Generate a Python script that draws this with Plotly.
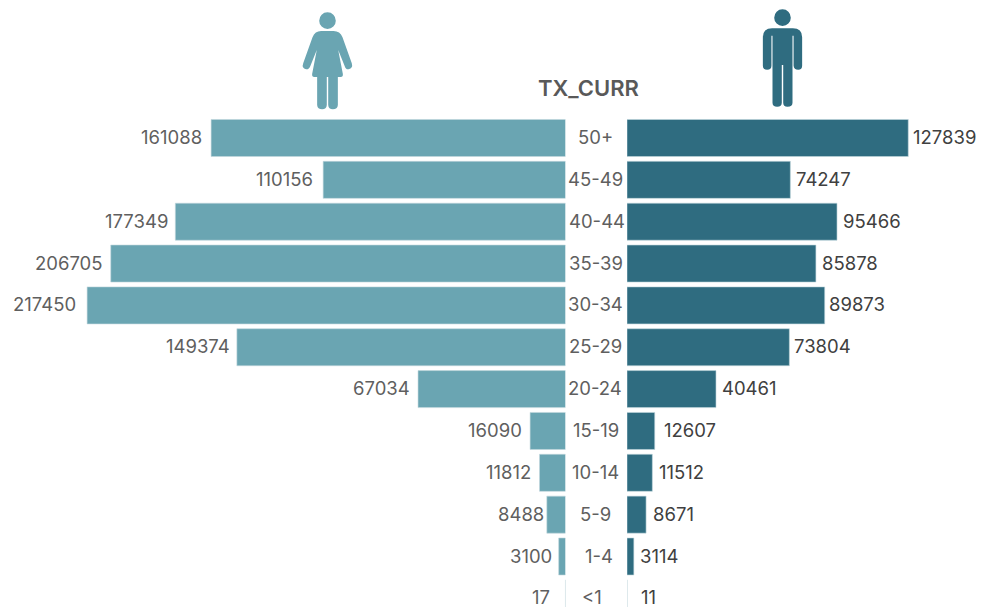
import re
import plotly.graph_objects as go

ages = ["50+", "45-49", "40-44", "35-39", "30-34", "25-29", "20-24", "15-19", "10-14", "5-9", "1-4", "<1"]
female = [161088, 110156, 177349, 206705, 217450, 149374, 67034, 16090, 11812, 8488, 3100, 17]
male = [127839, 74247, 95466, 85878, 89873, 73804, 40461, 12607, 11512, 8671, 3114, 11]

W, H = 986, 607
FEMALE_C, MALE_C = "#6aa5b2", "#2f6c80"
EDGE = "#c3d6de"
FONT = "Inter"
LABEL_SIZE = 18.5
# pixels per person on both value axes
SCALE = 0.0022
ZERO_L, ZERO_R = 565.5, 627.0
ROW0, STEP = 138.0, 41.85

# label offsets from the bar ends, in pixels
gap_f = [7, 8, 5, 6, 9, 5, 6, 6, 7, 1, 5, 13]
gap_m = [3, 4, 4, 4, 2, 3, 4, 7, 5, 5, 4, 12]
shift_c = [0, 0, 1.5, 0.5, 0.5, 0, 0, 0.5, 0, 0, 3.5, -3.5]

fig = go.Figure()
fig.add_bar(y=ages, x=female, orientation="h", xaxis="x", yaxis="y", showlegend=False,
            marker=dict(color=FEMALE_C, line=dict(color=EDGE, width=0.6)))
fig.add_bar(y=ages, x=male, orientation="h", xaxis="x2", yaxis="y", showlegend=False,
            marker=dict(color=MALE_C, line=dict(color=EDGE, width=0.6)))

ann = []
for a, f, m, gf, gm, sc in zip(ages, female, male, gap_f, gap_m, shift_c):
    ann.append(dict(x=f, y=a, xref="x", yref="y", text=str(f), showarrow=False, xanchor="right",
                    yshift=1, xshift=-gf, font=dict(family=FONT, size=LABEL_SIZE, color="#5f5f5f")))
    ann.append(dict(x=m, y=a, xref="x2", yref="y", text=str(m), showarrow=False, xanchor="left",
                    yshift=1, xshift=gm, font=dict(family=FONT, size=LABEL_SIZE, color="#404040")))
    ann.append(dict(x=595 / W, y=a, xref="paper", yref="y", text=a, showarrow=False, xanchor="center",
                    yshift=1, xshift=sc, font=dict(family=FONT, size=LABEL_SIZE, color="#5f5f5f")))
ann.append(dict(x=588.5 / W, y=1 - 88 / H, xref="paper", yref="paper", text="TX_CURR", showarrow=False,
                yanchor="middle", font=dict(family=FONT, size=22, weight=600, color="#595959")))

def to_paper(path):
    """Icon outlines are traced in a crop scaled 2.8x by 3x with origin (280, 0)."""
    def rep(match):
        x = float(match.group(1))
        y = float(match.group(2))
        return f"{(280 + x / 2.8) / W:.5f},{1 - (y / 3) / H:.5f}"
    return re.sub(r"(-?\d+\.?\d*) (-?\d+\.?\d*)", rep, path)

woman = ("M 115 93 L 150 93 Q 168 93 175 112 L 201 190 Q 205 205 192 208 Q 184 209 181 198 L 163 150 "
         "L 176 222 Q 177 231 170 231 L 162 231 L 162 315 Q 161 328 148 328 Q 136 328 135 315 L 135 231 "
         "L 131 231 L 131 315 Q 130 328 118 328 Q 105 328 104 315 L 104 231 L 96 231 Q 89 231 90 222 "
         "L 103 150 L 85 198 Q 81 209 73 208 Q 60 205 65 190 L 91 112 Q 98 93 115 93 Z")
man = ("M 1378 85 L 1436 85 Q 1462 85 1462 112 L 1462 197 Q 1462 209 1451 209 Q 1439 209 1438 197 "
       "L 1438 107 L 1435 107 L 1435 308 Q 1435 320 1421 320 Q 1409 320 1409 308 L 1409 195 L 1405 195 "
       "L 1405 308 Q 1405 320 1392 320 Q 1379 320 1379 308 L 1379 107 L 1376 107 L 1376 197 "
       "Q 1376 209 1364 209 Q 1352 209 1352 197 L 1352 112 Q 1352 85 1378 85 Z")

def head(cx, cy, color):
    px, py = 280 + cx / 2.8, cy / 3
    r = 8.3
    return dict(type="circle", xref="paper", yref="paper", x0=(px - r) / W, x1=(px + r) / W,
                y0=1 - (py + r) / H, y1=1 - (py - r) / H, fillcolor=color, line_width=0)

shapes = [
    dict(type="path", xref="paper", yref="paper", path=to_paper(woman), fillcolor=FEMALE_C, line_width=0),
    dict(type="path", xref="paper", yref="paper", path=to_paper(man), fillcolor=MALE_C, line_width=0),
    head(133, 62, FEMALE_C),
    head(1407, 53, MALE_C),
]

fig.update_layout(
    width=W, height=H, margin=dict(l=0, r=0, t=0, b=0),
    paper_bgcolor="white", plot_bgcolor="white", bargap=0.115,
    font=dict(family=FONT),
    annotations=ann, shapes=shapes,
    xaxis=dict(domain=[0, ZERO_L / W], range=[ZERO_L / SCALE, 0], visible=False),
    xaxis2=dict(domain=[ZERO_R / W, 1], range=[0, (W - ZERO_R) / SCALE], visible=False, anchor="y"),
    yaxis=dict(domain=[0, 1], type="category", categoryorder="array", categoryarray=ages,
               range=[(H - ROW0) / STEP, -ROW0 / STEP], visible=False),
)

fig.write_html("out.html", config=dict(displayModeBar=False),
               post_script="document.body.style.margin='0';document.body.style.overflow='hidden';")
